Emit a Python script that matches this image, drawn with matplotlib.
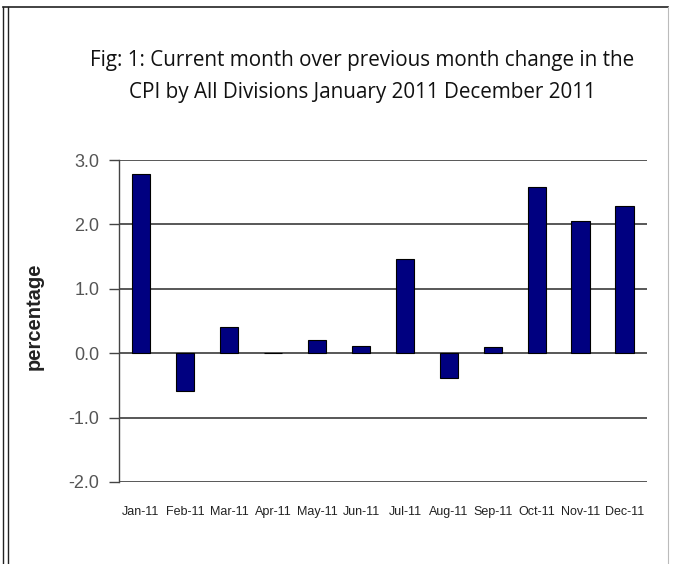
import matplotlib
matplotlib.use("Agg")
import matplotlib.pyplot as plt
from matplotlib.lines import Line2D

months = ["Jan-11", "Feb-11", "Mar-11", "Apr-11", "May-11", "Jun-11",
          "Jul-11", "Aug-11", "Sep-11", "Oct-11", "Nov-11", "Dec-11"]
change = [2.78, -0.59, 0.40, 0.0, 0.21, 0.11, 1.46, -0.39, 0.10, 2.58, 2.05, 2.28]
yticks = [-2.0, -1.0, 0.0, 1.0, 2.0, 3.0]

fig = plt.figure(figsize=(6.73, 5.64), dpi=100)
fig.patch.set_facecolor("white")

# page frame
fig.add_artist(Line2D([0.005, 0.005], [0.0, 0.987], transform=fig.transFigure, color="#222", lw=1.0))
fig.add_artist(Line2D([0.012, 0.012], [0.0, 0.987], transform=fig.transFigure, color="#222", lw=1.0))
fig.add_artist(Line2D([0.005, 0.993], [0.987, 0.987], transform=fig.transFigure, color="#222", lw=1.2))
fig.add_artist(Line2D([0.993, 0.993], [0.0, 0.987], transform=fig.transFigure, color="#bbb", lw=0.8))

ax = fig.add_axes([0.1768, 0.1454, 0.7845, 0.5709])
x = list(range(len(months)))
ax.bar(x, change, width=0.43, color="#000080", edgecolor="#000000", linewidth=0.8, zorder=3)
ax.set_xlim(-0.5, len(months) - 0.5)
ax.set_ylim(-2.0, 3.0)
ax.set_yticks(yticks)
ax.set_yticklabels([f"{v:.1f}" for v in yticks], fontsize=13, color="#555555", family="Liberation Sans")
ax.set_xticks(x)
ax.set_xticklabels(months, fontsize=9.0, color="#222222", family="Liberation Sans")
ax.tick_params(axis="x", length=0, pad=17)
ax.tick_params(axis="y", length=7, width=1.0, color="#444444", direction="out", pad=7)
ax.grid(axis="y", color="#4a4a4a", linewidth=1.3, zorder=1)
for s in ["top", "right", "bottom"]:
    ax.spines[s].set_visible(False)
ax.spines["left"].set_color("#444444")
ax.spines["left"].set_linewidth(1.0)
ax.set_ylabel("percentage", fontsize=14.5, fontweight="bold", family="Liberation Sans",
              color="#222222")
ax.yaxis.set_label_coords(-0.143, 0.515)

fig.text(0.538, 0.893, "Fig: 1: Current month over previous month change in the",
         ha="center", va="center", fontsize=14.9, family="Open Sans", color="#111111")
fig.text(0.538, 0.836, "CPI by All Divisions January 2011 December 2011",
         ha="center", va="center", fontsize=14.9, family="Open Sans", color="#111111")

fig.savefig("out.png", dpi=100)
